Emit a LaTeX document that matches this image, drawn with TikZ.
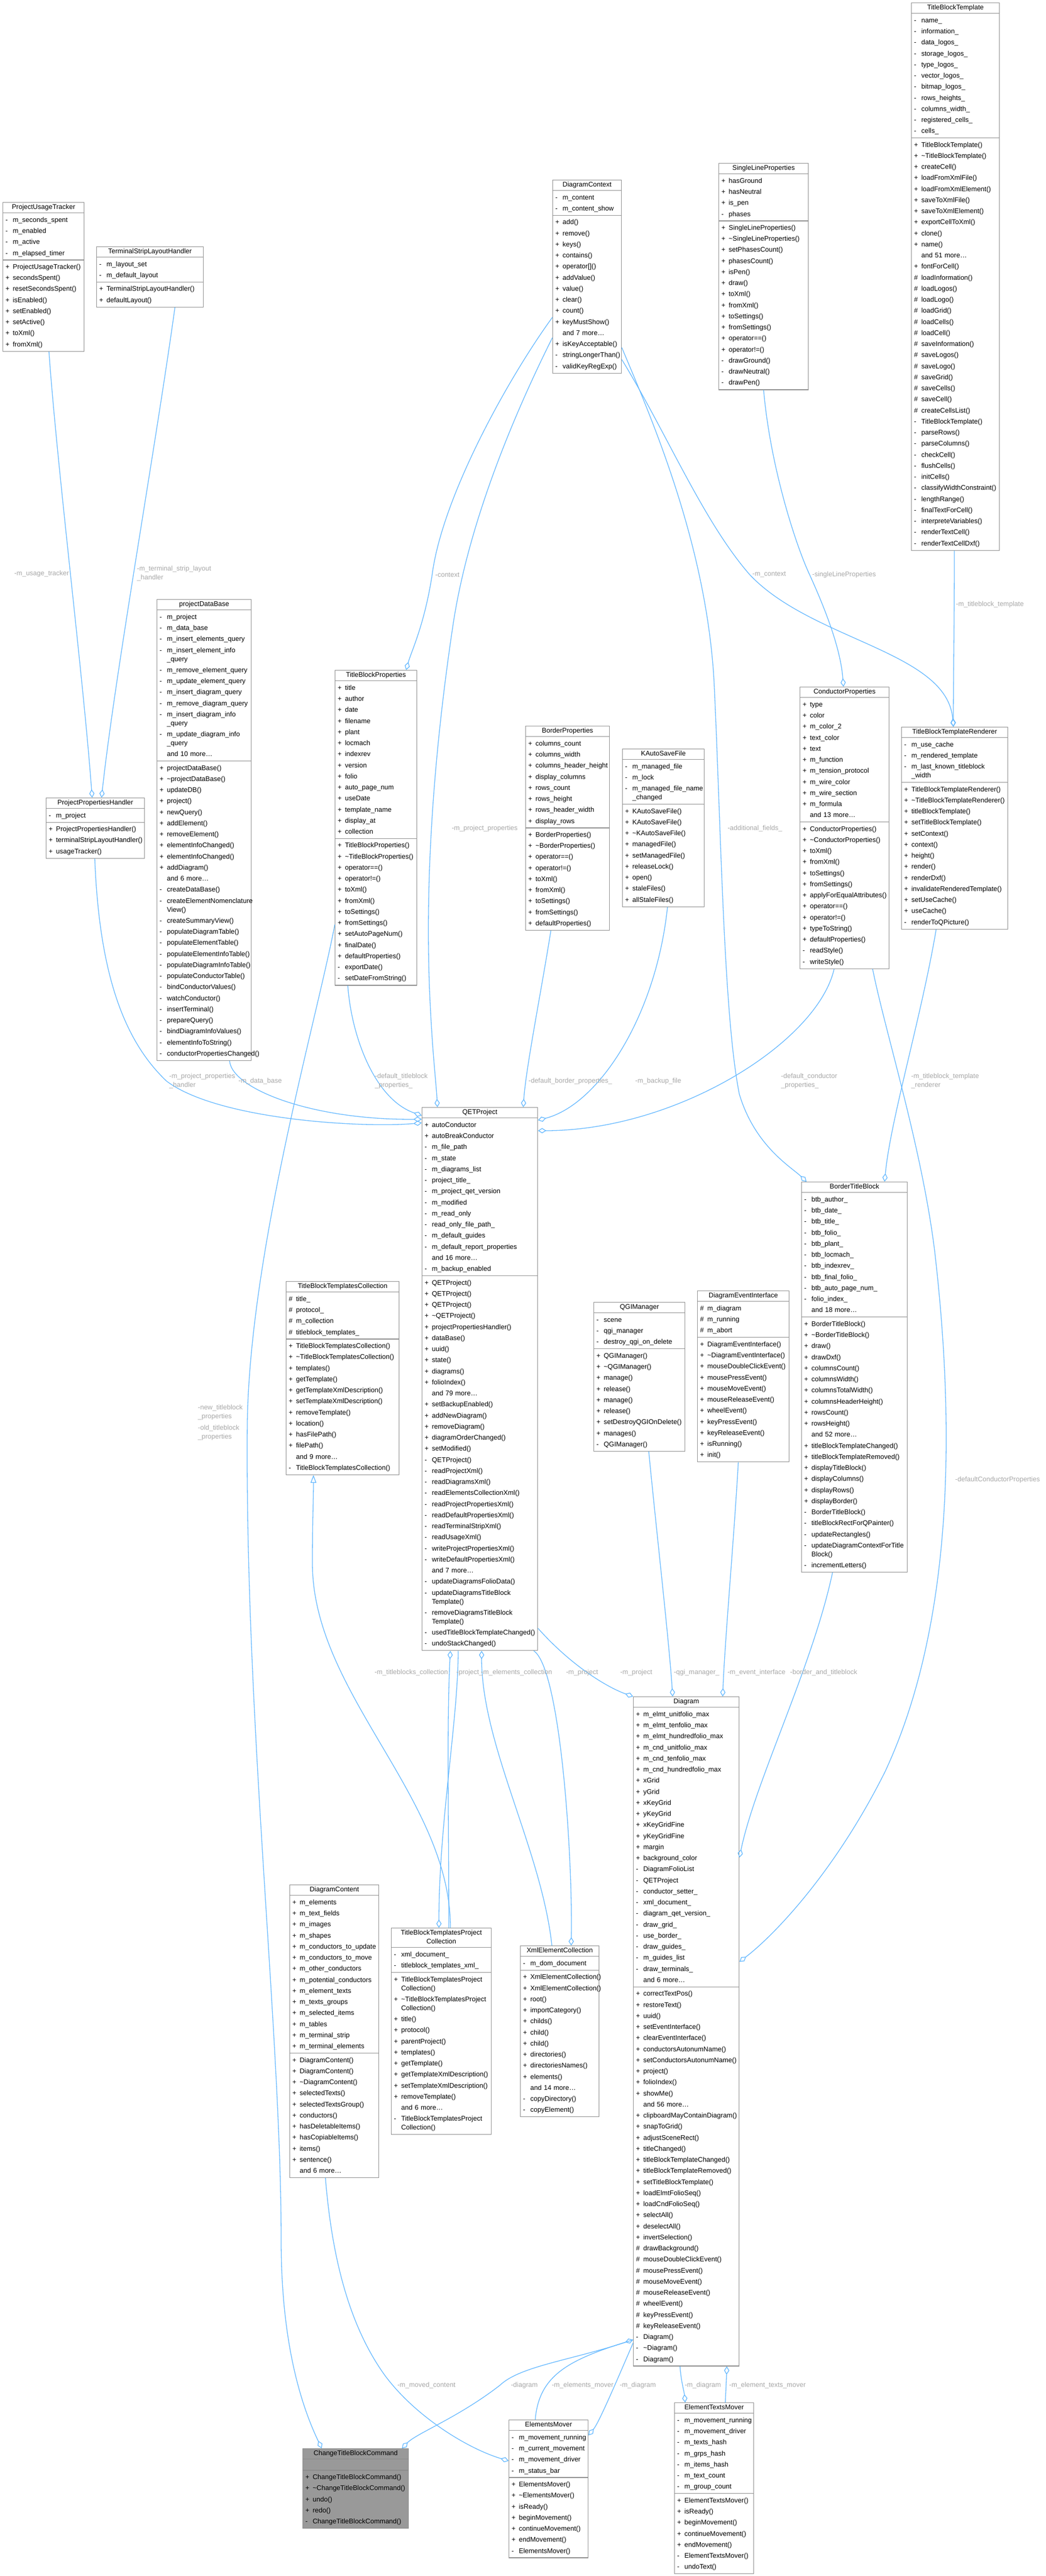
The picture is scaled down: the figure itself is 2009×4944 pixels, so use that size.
\documentclass[tikz,border=0pt]{standalone}
\usepackage{fontspec}
\setmainfont{Liberation Sans}
\usetikzlibrary{shapes.multipart,arrows.meta}
\definecolor{edgec}{HTML}{63B8FF}
\definecolor{boxc}{HTML}{8C8C8C}
\definecolor{lblc}{HTML}{A8A8A8}
\definecolor{hlc}{HTML}{999999}
\newcommand\cf{\fontsize{13}{21.25}\selectfont\hyphenpenalty=10000\exhyphenpenalty=10000}
\newcommand\Hd[1]{\hbox to\hsize{\hfil\rule[-5pt]{0pt}{15pt}#1\hfil}}
\newcommand\Pl[1]{\strut\makebox[14pt][l]{+}#1}
\newcommand\Mi[1]{\strut\makebox[14pt][l]{-}#1}
\newcommand\Ha[1]{\strut\makebox[14pt][l]{\#}#1}
\newcommand\No[1]{\strut\hspace*{14pt}#1}
\newcommand\Wr[1]{\\[-4.25pt]\strut\hspace*{14pt}#1}
\newcommand\Tl{\textasciitilde}
\tikzset{
 cls/.style={rectangle split, rectangle split parts=3, draw=boxc, line width=1.2pt, fill=white, anchor=north west, inner xsep=5pt, inner ysep=2pt, font=\cf, align=left},
 agg/.style={draw=edgec, line width=1.3pt, -{Diamond[open,length=16pt,width=10pt]}},
 inh/.style={draw=edgec, line width=1.3pt, -{Triangle[open,length=15pt,width=11pt]}},
 lbl/.style={text=lblc, font=\cf, inner sep=0pt, align=center},
 lbll/.style={lbl, align=left, anchor=west},
}
\begin{document}
\catcode`\_=12
\begin{tikzpicture}[x=1pt,y=-1pt]
\fill[white] (0,0) rectangle (2009,4944);
\useasboundingbox (0,0) rectangle (2009,4944);

% ---------------- classes ----------------
\node[cls,text width=146pt] (PUT) at (5,388) {\Hd{ProjectUsageTracker}\nodepart{two}\Mi{m_seconds_spent}\\\Mi{m_enabled}\\\Mi{m_active}\\\Mi{m_elapsed_timer}\nodepart{three}\Pl{ProjectUsageTracker()}\\\Pl{secondsSpent()}\\\Pl{resetSecondsSpent()}\\\Pl{isEnabled()}\\\Pl{setEnabled()}\\\Pl{setActive()}\\\Pl{toXml()}\\\Pl{fromXml()}};

\node[cls,text width=195pt] (TSLH) at (185,473) {\Hd{TerminalStripLayoutHandler}\nodepart{two}\Mi{m_layout_set}\\\Mi{m_default_layout}\nodepart{three}\Pl{TerminalStripLayoutHandler()}\\\Pl{defaultLayout()}};

\node[cls,text width=159pt] (TBT) at (1750,5) {\Hd{TitleBlockTemplate}\nodepart{two}\Mi{name_}\\\Mi{information_}\\\Mi{data_logos_}\\\Mi{storage_logos_}\\\Mi{type_logos_}\\\Mi{vector_logos_}\\\Mi{bitmap_logos_}\\\Mi{rows_heights_}\\\Mi{columns_width_}\\\Mi{registered_cells_}\\\Mi{cells_}\nodepart{three}\Pl{TitleBlockTemplate()}\\\Pl{\Tl TitleBlockTemplate()}\\\Pl{createCell()}\\\Pl{loadFromXmlFile()}\\\Pl{loadFromXmlElement()}\\\Pl{saveToXmlFile()}\\\Pl{saveToXmlElement()}\\\Pl{exportCellToXml()}\\\Pl{clone()}\\\Pl{name()}\\\No{and 51 more\ldots}\\\Pl{fontForCell()}\\\Ha{loadInformation()}\\\Ha{loadLogos()}\\\Ha{loadLogo()}\\\Ha{loadGrid()}\\\Ha{loadCells()}\\\Ha{loadCell()}\\\Ha{saveInformation()}\\\Ha{saveLogos()}\\\Ha{saveLogo()}\\\Ha{saveGrid()}\\\Ha{saveCells()}\\\Ha{saveCell()}\\\Ha{createCellsList()}\\\Mi{TitleBlockTemplate()}\\\Mi{parseRows()}\\\Mi{parseColumns()}\\\Mi{checkCell()}\\\Mi{flushCells()}\\\Mi{initCells()}\\\Mi{classifyWidthConstraint()}\\\Mi{lengthRange()}\\\Mi{finalTextForCell()}\\\Mi{interpreteVariables()}\\\Mi{renderTextCell()}\\\Mi{renderTextCellDxf()}};

\node[cls,text width=122pt] (DC) at (1061,345) {\Hd{DiagramContext}\nodepart{two}\Mi{m_content}\\\Mi{m_content_show}\nodepart{three}\Pl{add()}\\\Pl{remove()}\\\Pl{keys()}\\\Pl{contains()}\\\Pl{operator[]()}\\\Pl{addValue()}\\\Pl{value()}\\\Pl{clear()}\\\Pl{count()}\\\Pl{keyMustShow()}\\\No{and 7 more\ldots}\\\Pl{isKeyAcceptable()}\\\Mi{stringLongerThan()}\\\Mi{validKeyRegExp()}};

\node[cls,text width=162pt] (SLP) at (1380,313) {\Hd{SingleLineProperties}\nodepart{two}\Pl{hasGround}\\\Pl{hasNeutral}\\\Pl{is_pen}\\\Mi{phases}\nodepart{three}\Pl{SingleLineProperties()}\\\Pl{\Tl SingleLineProperties()}\\\Pl{setPhasesCount()}\\\Pl{phasesCount()}\\\Pl{isPen()}\\\Pl{draw()}\\\Pl{toXml()}\\\Pl{fromXml()}\\\Pl{toSettings()}\\\Pl{fromSettings()}\\\Pl{operator==()}\\\Pl{operator!=()}\\\Mi{drawGround()}\\\Mi{drawNeutral()}\\\Mi{drawPen()}};

\node[cls,text width=171pt] (pDB) at (301,1150) {\Hd{projectDataBase}\nodepart{two}\Mi{m_project}\\\Mi{m_data_base}\\\Mi{m_insert_elements_query}\\\Mi{m_insert_element_info}\Wr{_query}\\\Mi{m_remove_element_query}\\\Mi{m_update_element_query}\\\Mi{m_insert_diagram_query}\\\Mi{m_remove_diagram_query}\\\Mi{m_insert_diagram_info}\Wr{_query}\\\Mi{m_update_diagram_info}\Wr{_query}\\\No{and 10 more\ldots}\nodepart{three}\Pl{projectDataBase()}\\\Pl{\Tl projectDataBase()}\\\Pl{updateDB()}\\\Pl{project()}\\\Pl{newQuery()}\\\Pl{addElement()}\\\Pl{removeElement()}\\\Pl{elementInfoChanged()}\\\Pl{elementInfoChanged()}\\\Pl{addDiagram()}\\\No{and 6 more\ldots}\\\Mi{createDataBase()}\\\Mi{createElementNomenclature}\Wr{View()}\\\Mi{createSummaryView()}\\\Mi{populateDiagramTable()}\\\Mi{populateElementTable()}\\\Mi{populateElementInfoTable()}\\\Mi{populateDiagramInfoTable()}\\\Mi{populateConductorTable()}\\\Mi{bindConductorValues()}\\\Mi{watchConductor()}\\\Mi{insertTerminal()}\\\Mi{prepareQuery()}\\\Mi{bindDiagramInfoValues()}\\\Mi{elementInfoToString()}\\\Mi{conductorPropertiesChanged()}};

\node[cls,text width=179pt] (PPH) at (88,1531) {\Hd{ProjectPropertiesHandler}\nodepart{two}\Mi{m_project}\nodepart{three}\Pl{ProjectPropertiesHandler()}\\\Pl{terminalStripLayoutHandler()}\\\Pl{usageTracker()}};

\node[cls,text width=147pt] (TBP) at (643,1286) {\Hd{TitleBlockProperties}\nodepart{two}\Pl{title}\\\Pl{author}\\\Pl{date}\\\Pl{filename}\\\Pl{plant}\\\Pl{locmach}\\\Pl{indexrev}\\\Pl{version}\\\Pl{folio}\\\Pl{auto_page_num}\\\Pl{useDate}\\\Pl{template_name}\\\Pl{display_at}\\\Pl{collection}\nodepart{three}\Pl{TitleBlockProperties()}\\\Pl{\Tl TitleBlockProperties()}\\\Pl{operator==()}\\\Pl{operator!=()}\\\Pl{toXml()}\\\Pl{fromXml()}\\\Pl{toSettings()}\\\Pl{fromSettings()}\\\Pl{setAutoPageNum()}\\\Pl{finalDate()}\\\Pl{defaultProperties()}\\\Mi{exportDate()}\\\Mi{setDateFromString()}};

\node[cls,text width=151pt] (BP) at (1009,1393) {\Hd{BorderProperties}\nodepart{two}\Pl{columns_count}\\\Pl{columns_width}\\\Pl{columns_header_height}\\\Pl{display_columns}\\\Pl{rows_count}\\\Pl{rows_height}\\\Pl{rows_header_width}\\\Pl{display_rows}\nodepart{three}\Pl{BorderProperties()}\\\Pl{\Tl BorderProperties()}\\\Pl{operator==()}\\\Pl{operator!=()}\\\Pl{toXml()}\\\Pl{fromXml()}\\\Pl{toSettings()}\\\Pl{fromSettings()}\\\Pl{defaultProperties()}};

\node[cls,text width=147pt] (KASF) at (1195,1437) {\Hd{KAutoSaveFile}\nodepart{two}\Mi{m_managed_file}\\\Mi{m_lock}\\\Mi{m_managed_file_name}\Wr{_changed}\nodepart{three}\Pl{KAutoSaveFile()}\\\Pl{KAutoSaveFile()}\\\Pl{\Tl KAutoSaveFile()}\\\Pl{managedFile()}\\\Pl{setManagedFile()}\\\Pl{releaseLock()}\\\Pl{open()}\\\Pl{staleFiles()}\\\Pl{allStaleFiles()}};

\node[cls,text width=161pt] (CP) at (1536,1318) {\Hd{ConductorProperties}\nodepart{two}\Pl{type}\\\Pl{color}\\\Pl{m_color_2}\\\Pl{text_color}\\\Pl{text}\\\Pl{m_function}\\\Pl{m_tension_protocol}\\\Pl{m_wire_color}\\\Pl{m_wire_section}\\\Pl{m_formula}\\\No{and 13 more\ldots}\nodepart{three}\Pl{ConductorProperties()}\\\Pl{\Tl ConductorProperties()}\\\Pl{toXml()}\\\Pl{fromXml()}\\\Pl{toSettings()}\\\Pl{fromSettings()}\\\Pl{applyForEqualAttributes()}\\\Pl{operator==()}\\\Pl{operator!=()}\\\Pl{typeToString()}\\\Pl{defaultProperties()}\\\Mi{readStyle()}\\\Mi{writeStyle()}};

\node[cls,text width=194pt] (TBTR) at (1731,1395) {\Hd{TitleBlockTemplateRenderer}\nodepart{two}\Mi{m_use_cache}\\\Mi{m_rendered_template}\\\Mi{m_last_known_titleblock}\Wr{_width}\nodepart{three}\Pl{TitleBlockTemplateRenderer()}\\\Pl{\Tl TitleBlockTemplateRenderer()}\\\Pl{titleBlockTemplate()}\\\Pl{setTitleBlockTemplate()}\\\Pl{setContext()}\\\Pl{context()}\\\Pl{height()}\\\Pl{render()}\\\Pl{renderDxf()}\\\Pl{invalidateRenderedTemplate()}\\\Pl{setUseCache()}\\\Pl{useCache()}\\\Mi{renderToQPicture()}};

\node[cls,text width=212pt] (QET) at (810,2125) {\Hd{QETProject}\nodepart{two}\Pl{autoConductor}\\\Pl{autoBreakConductor}\\\Mi{m_file_path}\\\Mi{m_state}\\\Mi{m_diagrams_list}\\\Mi{project_title_}\\\Mi{m_project_qet_version}\\\Mi{m_modified}\\\Mi{m_read_only}\\\Mi{read_only_file_path_}\\\Mi{m_default_guides}\\\Mi{m_default_report_properties}\\\No{and 16 more\ldots}\\\Mi{m_backup_enabled}\nodepart{three}\Pl{QETProject()}\\\Pl{QETProject()}\\\Pl{QETProject()}\\\Pl{\Tl QETProject()}\\\Pl{projectPropertiesHandler()}\\\Pl{dataBase()}\\\Pl{uuid()}\\\Pl{state()}\\\Pl{diagrams()}\\\Pl{folioIndex()}\\\No{and 79 more\ldots}\\\Pl{setBackupEnabled()}\\\Pl{addNewDiagram()}\\\Pl{removeDiagram()}\\\Pl{diagramOrderChanged()}\\\Pl{setModified()}\\\Mi{QETProject()}\\\Mi{readProjectXml()}\\\Mi{readDiagramsXml()}\\\Mi{readElementsCollectionXml()}\\\Mi{readProjectPropertiesXml()}\\\Mi{readDefaultPropertiesXml()}\\\Mi{readTerminalStripXml()}\\\Mi{readUsageXml()}\\\Mi{writeProjectPropertiesXml()}\\\Mi{writeDefaultPropertiesXml()}\\\No{and 7 more\ldots}\\\Mi{updateDiagramsFolioData()}\\\Mi{updateDiagramsTitleBlock}\Wr{Template()}\\\Mi{removeDiagramsTitleBlock}\Wr{Template()}\\\Mi{usedTitleBlockTemplateChanged()}\\\Mi{undoStackChanged()}};

\node[cls,text width=207pt] (TBTC) at (549,2459) {\Hd{TitleBlockTemplatesCollection}\nodepart{two}\Ha{title_}\\\Ha{protocol_}\\\Ha{m_collection}\\\Ha{titleblock_templates_}\nodepart{three}\Pl{TitleBlockTemplatesCollection()}\\\Pl{\Tl TitleBlockTemplatesCollection()}\\\Pl{templates()}\\\Pl{getTemplate()}\\\Pl{getTemplateXmlDescription()}\\\Pl{setTemplateXmlDescription()}\\\Pl{removeTemplate()}\\\Pl{location()}\\\Pl{hasFilePath()}\\\Pl{filePath()}\\\No{and 9 more\ldots}\\\Mi{TitleBlockTemplatesCollection()}};

\node[cls,text width=165pt] (QGI) at (1140,2499) {\Hd{QGIManager}\nodepart{two}\Mi{scene}\\\Mi{qgi_manager}\\\Mi{destroy_qgi_on_delete}\nodepart{three}\Pl{QGIManager()}\\\Pl{\Tl QGIManager()}\\\Pl{manage()}\\\Pl{release()}\\\Pl{manage()}\\\Pl{release()}\\\Pl{setDestroyQGIOnDelete()}\\\Pl{manages()}\\\Mi{QGIManager()}};

\node[cls,text width=166pt] (DEI) at (1339,2477) {\Hd{DiagramEventInterface}\nodepart{two}\Ha{m_diagram}\\\Ha{m_running}\\\Ha{m_abort}\nodepart{three}\Pl{DiagramEventInterface()}\\\Pl{\Tl DiagramEventInterface()}\\\Pl{mouseDoubleClickEvent()}\\\Pl{mousePressEvent()}\\\Pl{mouseMoveEvent()}\\\Pl{mouseReleaseEvent()}\\\Pl{wheelEvent()}\\\Pl{keyPressEvent()}\\\Pl{keyReleaseEvent()}\\\Pl{isRunning()}\\\Pl{init()}};

\node[cls,text width=193pt] (BTB) at (1539,2268) {\Hd{BorderTitleBlock}\nodepart{two}\Mi{btb_author_}\\\Mi{btb_date_}\\\Mi{btb_title_}\\\Mi{btb_folio_}\\\Mi{btb_plant_}\\\Mi{btb_locmach_}\\\Mi{btb_indexrev_}\\\Mi{btb_final_folio_}\\\Mi{btb_auto_page_num_}\\\Mi{folio_index_}\\\No{and 18 more\ldots}\nodepart{three}\Pl{BorderTitleBlock()}\\\Pl{\Tl BorderTitleBlock()}\\\Pl{draw()}\\\Pl{drawDxf()}\\\Pl{columnsCount()}\\\Pl{columnsWidth()}\\\Pl{columnsTotalWidth()}\\\Pl{columnsHeaderHeight()}\\\Pl{rowsCount()}\\\Pl{rowsHeight()}\\\No{and 52 more\ldots}\\\Pl{titleBlockTemplateChanged()}\\\Pl{titleBlockTemplateRemoved()}\\\Pl{displayTitleBlock()}\\\Pl{displayColumns()}\\\Pl{displayRows()}\\\Pl{displayBorder()}\\\Mi{BorderTitleBlock()}\\\Mi{titleBlockRectForQPainter()}\\\Mi{updateRectangles()}\\\Mi{updateDiagramContextForTitle}\Wr{Block()}\\\Mi{incrementLetters()}};

\node[cls,text width=193pt] (Diagram) at (1216,3256) {\Hd{Diagram}\nodepart{two}\Pl{m_elmt_unitfolio_max}\\\Pl{m_elmt_tenfolio_max}\\\Pl{m_elmt_hundredfolio_max}\\\Pl{m_cnd_unitfolio_max}\\\Pl{m_cnd_tenfolio_max}\\\Pl{m_cnd_hundredfolio_max}\\\Pl{xGrid}\\\Pl{yGrid}\\\Pl{xKeyGrid}\\\Pl{yKeyGrid}\\\Pl{xKeyGridFine}\\\Pl{yKeyGridFine}\\\Pl{margin}\\\Pl{background_color}\\\Mi{DiagramFolioList}\\\Mi{QETProject}\\\Mi{conductor_setter_}\\\Mi{xml_document_}\\\Mi{diagram_qet_version_}\\\Mi{draw_grid_}\\\Mi{use_border_}\\\Mi{draw_guides_}\\\Mi{m_guides_list}\\\Mi{draw_terminals_}\\\No{and 6 more\ldots}\nodepart{three}\Pl{correctTextPos()}\\\Pl{restoreText()}\\\Pl{uuid()}\\\Pl{setEventInterface()}\\\Pl{clearEventInterface()}\\\Pl{conductorsAutonumName()}\\\Pl{setConductorsAutonumName()}\\\Pl{project()}\\\Pl{folioIndex()}\\\Pl{showMe()}\\\No{and 56 more\ldots}\\\Pl{clipboardMayContainDiagram()}\\\Pl{snapToGrid()}\\\Pl{adjustSceneRect()}\\\Pl{titleChanged()}\\\Pl{titleBlockTemplateChanged()}\\\Pl{titleBlockTemplateRemoved()}\\\Pl{setTitleBlockTemplate()}\\\Pl{loadElmtFolioSeq()}\\\Pl{loadCndFolioSeq()}\\\Pl{selectAll()}\\\Pl{deselectAll()}\\\Pl{invertSelection()}\\\Ha{drawBackground()}\\\Ha{mouseDoubleClickEvent()}\\\Ha{mousePressEvent()}\\\Ha{mouseMoveEvent()}\\\Ha{mouseReleaseEvent()}\\\Ha{wheelEvent()}\\\Ha{keyPressEvent()}\\\Ha{keyReleaseEvent()}\\\Mi{Diagram()}\\\Mi{\Tl Diagram()}\\\Mi{Diagram()}};

\node[cls,text width=161pt] (DCont) at (556,3617) {\Hd{DiagramContent}\nodepart{two}\Pl{m_elements}\\\Pl{m_text_fields}\\\Pl{m_images}\\\Pl{m_shapes}\\\Pl{m_conductors_to_update}\\\Pl{m_conductors_to_move}\\\Pl{m_other_conductors}\\\Pl{m_potential_conductors}\\\Pl{m_element_texts}\\\Pl{m_texts_groups}\\\Pl{m_selected_items}\\\Pl{m_tables}\\\Pl{m_terminal_strip}\\\Pl{m_terminal_elements}\nodepart{three}\Pl{DiagramContent()}\\\Pl{DiagramContent()}\\\Pl{\Tl DiagramContent()}\\\Pl{selectedTexts()}\\\Pl{selectedTextsGroup()}\\\Pl{conductors()}\\\Pl{hasDeletableItems()}\\\Pl{hasCopiableItems()}\\\Pl{items()}\\\Pl{sentence()}\\\No{and 6 more\ldots}};

\node[cls,text width=182pt] (TBTPC) at (751,3700) {\Hd{TitleBlockTemplatesProject}\vskip-4.25pt\Hd{Collection}\nodepart{two}\Mi{xml_document_}\\\Mi{titleblock_templates_xml_}\nodepart{three}\Pl{TitleBlockTemplatesProject}\Wr{Collection()}\\\Pl{\Tl TitleBlockTemplatesProject}\Wr{Collection()}\\\Pl{title()}\\\Pl{protocol()}\\\Pl{parentProject()}\\\Pl{templates()}\\\Pl{getTemplate()}\\\Pl{getTemplateXmlDescription()}\\\Pl{setTemplateXmlDescription()}\\\Pl{removeTemplate()}\\\No{and 6 more\ldots}\\\Mi{TitleBlockTemplatesProject}\Wr{Collection()}};

\node[cls,text width=141pt] (XEC) at (999,3734) {\Hd{XmlElementCollection}\nodepart{two}\Mi{m_dom_document}\nodepart{three}\Pl{XmlElementCollection()}\\\Pl{XmlElementCollection()}\\\Pl{root()}\\\Pl{importCategory()}\\\Pl{childs()}\\\Pl{child()}\\\Pl{child()}\\\Pl{directories()}\\\Pl{directoriesNames()}\\\Pl{elements()}\\\No{and 14 more\ldots}\\\Mi{copyDirectory()}\\\Mi{copyElement()}};

\node[cls,text width=193pt,fill=hlc] (CTBC) at (581,4699) {\Hd{ChangeTitleBlockCommand}\nodepart{two}\rule{0pt}{16pt}\nodepart{three}\Pl{ChangeTitleBlockCommand()}\\\Pl{\Tl ChangeTitleBlockCommand()}\\\Pl{undo()}\\\Pl{redo()}\\\Mi{ChangeTitleBlockCommand()}};

\node[cls,text width=142pt] (EM) at (977,4644) {\Hd{ElementsMover}\nodepart{two}\Mi{m_movement_running}\\\Mi{m_current_movement}\\\Mi{m_movement_driver}\\\Mi{m_status_bar}\nodepart{three}\Pl{ElementsMover()}\\\Pl{\Tl ElementsMover()}\\\Pl{isReady()}\\\Pl{beginMovement()}\\\Pl{continueMovement()}\\\Pl{endMovement()}\\\Mi{ElementsMover()}};

\node[cls,text width=142pt] (ETM) at (1295,4611) {\Hd{ElementTextsMover}\nodepart{two}\Mi{m_movement_running}\\\Mi{m_movement_driver}\\\Mi{m_texts_hash}\\\Mi{m_grps_hash}\\\Mi{m_items_hash}\\\Mi{m_text_count}\\\Mi{m_group_count}\nodepart{three}\Pl{ElementTextsMover()}\\\Pl{isReady()}\\\Pl{beginMovement()}\\\Pl{continueMovement()}\\\Pl{endMovement()}\\\Mi{ElementTextsMover()}\\\Mi{undoText()}};

% ---------------- connectors ----------------
\draw[agg] ([xshift=89pt]PUT.south west) .. controls (110,900) and (160,1300) .. ([xshift=89pt]PPH.north west);
\draw[agg] ([xshift=151pt]TSLH.south west) .. controls (300,850) and (220,1300) .. ([xshift=107pt]PPH.north west);
\draw[agg] ([xshift=94pt]PPH.south west) .. controls (190,1850) and (230,1990) .. (320,2075) .. controls (420,2150) and (700,2165) .. ([yshift=-30pt]QET.north west);
\draw[agg] ([xshift=140pt]pDB.south west) .. controls (445,2090) and (600,2150) .. ([yshift=-23pt]QET.north west);
\draw[agg] ([xshift=25pt]TBP.south west) .. controls (675,1990) and (720,2110) .. ([yshift=-16pt]QET.north west);
\draw[agg] ([yshift=-303pt]DC.north west) .. controls (990,790) and (900,1000) .. (870,1200) .. controls (840,1400) and (815,1650) .. (825,1900) .. controls (830,2020) and (838,2080) .. ([xshift=30pt]QET.north west);
\draw[agg] ([xshift=49pt]BP.south west) .. controls (1040,1900) and (1010,2050) .. ([xshift=195pt]QET.north west);
\draw[agg] ([xshift=87pt]KASF.south west) .. controls (1260,1950) and (1150,2120) .. ([yshift=-25pt]QET.north east);
\draw[agg] ([xshift=66pt]CP.south west) .. controls (1570,2000) and (1300,2170) .. ([yshift=-45pt]QET.north east);
\draw[agg] ([xshift=67pt]TBTR.south west) .. controls (1770,1950) and (1710,2150) .. ([xshift=160pt]BTB.north west);
\draw[agg] ([xshift=140pt]CP.south west) .. controls (1700,1980) and (1770,2200) .. (1795,2400) .. controls (1830,2700) and (1840,3100) .. (1700,3400) .. controls (1600,3600) and (1480,3720) .. ([yshift=-509pt]Diagram.north east);
\draw[agg] ([yshift=-264pt]DC.north west) .. controls (980,720) and (850,950) .. (830,1103) .. controls (815,1200) and (790,1250) .. ([xshift=137pt]TBP.north west);
\draw[agg] ([yshift=-322pt]DC.north east) .. controls (1250,800) and (1360,1050) .. (1372,1320) .. controls (1385,1600) and (1390,1950) .. (1420,2100) .. controls (1450,2200) and (1520,2240) .. ([xshift=10pt]BTB.north west);
\draw[agg] ([yshift=-345pt]DC.north east) .. controls (1280,830) and (1350,1000) .. (1440,1103) .. controls (1560,1230) and (1820,1250) .. ([xshift=100pt]TBTR.north west);
\draw[agg] ([xshift=83pt]TBT.south west) .. controls (1833,1200) and (1831,1300) .. ([xshift=100pt]TBTR.north west);
\draw[agg] (SLP.south) .. controls (1480,900) and (1530,1050) .. (1555,1103) .. controls (1590,1180) and (1615,1250) .. ([xshift=84pt]CP.north west);
\draw[agg] ([xshift=70pt]QET.south west) .. controls (880,3300) and (843,3500) .. ([xshift=92pt]TBTPC.north west);
\draw[agg] ([xshift=111pt]TBTPC.north west) .. controls (862,3500) and (858,3300) .. ([xshift=55pt]QET.south west);
\draw[inh] ([xshift=114pt]TBTPC.north west) .. controls (866,3450) and (600,3250) .. (600,3000) .. controls (600,2920) and (602,2880) .. ([xshift=53pt]TBTC.south west);
\draw[agg] ([xshift=61pt]XEC.north west) .. controls (1040,3550) and (925,3350) .. ([xshift=115pt]QET.south west);
\draw[agg] ([xshift=215pt]QET.south west) .. controls (1075,3200) and (1100,3550) .. ([xshift=98pt]XEC.north west);
\draw[agg] ([yshift=-1000pt]QET.north east) .. controls (1100,3200) and (1170,3240) .. (Diagram.north west);
\draw[agg] ([xshift=106pt]QGI.south west) .. controls (1262,2950) and (1285,3150) .. ([xshift=76pt]Diagram.north west);
\draw[agg] ([xshift=79pt]DEI.south west) .. controls (1410,2950) and (1392,3150) .. ([xshift=172pt]Diagram.north west);
\draw[agg] ([xshift=60pt]BTB.south west) .. controls (1560,3200) and (1450,3420) .. ([yshift=-309pt]Diagram.north east);
\draw[agg] ([yshift=51pt]Diagram.south west) .. controls (1100,4530) and (1000,4540) .. (960,4578) .. controls (880,4640) and (800,4670) .. ([xshift=191pt]CTBC.north west);
\draw[agg] ([xshift=51pt]EM.north west) .. controls (1035,4560) and (1090,4530) .. ([yshift=51pt]Diagram.south west);
\draw[agg] ([yshift=45pt]Diagram.south west) .. controls (1180,4580) and (1150,4650) .. ([yshift=-30pt]EM.north east);
\draw[agg] ([xshift=90pt]Diagram.south west) .. controls (1308,4570) and (1314,4590) .. ([xshift=21pt]ETM.north west);
\draw[agg] ([xshift=98pt]ETM.north west) .. controls (1394,4590) and (1395,4570) .. ([xshift=180pt]Diagram.south west);
\draw[agg] ([xshift=69pt]DCont.south west) .. controls (635,4300) and (660,4450) .. (740,4560) .. controls (800,4640) and (900,4700) .. ([yshift=-79pt]EM.north west);
\draw[agg] ([yshift=117pt]TBP.south west) .. controls (610,1950) and (480,2400) .. (475,2730) .. controls (470,3300) and (540,3900) .. (540,4300) .. controls (540,4500) and (580,4620) .. ([xshift=37pt]CTBC.north west);

% ---------------- labels ----------------
\node[lbl] (l1) at (80,1101) {-m_usage_tracker};
\node[lbll] (l2) at (263,1101) {-m_terminal_strip_layout\\[-4.25pt]_handler};
\node[lbll] (l3) at (325,2075) {-m_project_properties\\[-4.25pt]_handler};
\node[lbll] (l4) at (458,2075) {-m_data_base};
\node[lbll] (l5) at (720,2075) {-default_titleblock\\[-4.25pt]_properties_};
\node[lbl] (l6) at (931,1590) {-m_project_properties};
\node[lbll] (l7) at (1015,2075) {-default_border_properties_};
\node[lbll] (l8) at (1220,2075) {-m_backup_file};
\node[lbll] (l9) at (1500,2075) {-default_conductor\\[-4.25pt]_properties_};
\node[lbll] (l10) at (1750,2075) {-m_titleblock_template\\[-4.25pt]_renderer};
\node[lbl] (l11) at (1916,2840) {-defaultConductorProperties};
\node[lbll] (l12) at (836,1103) {-context};
\node[lbl] (l13) at (1450,1590) {-additional_fields_};
\node[lbll] (l14) at (1445,1103) {-m_context};
\node[lbll] (l15) at (1836,1160) {-m_titleblock_template};
\node[lbll] (l16) at (1560,1103) {-singleLineProperties};
\node[lbl] (l18) at (790,3210) {-m_titleblocks_collection};
\node[lbl] (l17) at (902,3210) {-project_};
\node[lbl] (l20) at (992,3210) {-m_elements_collection};
\node[lbl] (l21) at (1118,3210) {-m_project};
\node[lbl] (l22) at (1222,3210) {-m_project};
\node[lbl] (l23) at (1338,3210) {-qgi_manager_};
\node[lbl] (l24) at (1453,3210) {-m_event_interface};
\node[lbl] (l25) at (1582,3210) {-border_and_titleblock};
\node[lbl] (l26) at (1007,4578) {-diagram};
\node[lbl] (l27) at (1119,4578) {-m_elements_mover};
\node[lbl] (l28) at (1225,4578) {-m_diagram};
\node[lbl] (l29) at (1350,4578) {-m_diagram};
\node[lbl] (l30) at (1474,4578) {-m_element_texts_mover};
\node[lbl] (l31) at (819,4578) {-m_moved_content};
\node[lbll] (l32) at (380,2730) {-new_titleblock\\[-4.25pt]_properties\\-old_titleblock\\[-4.25pt]_properties};
\end{tikzpicture}
\end{document}
